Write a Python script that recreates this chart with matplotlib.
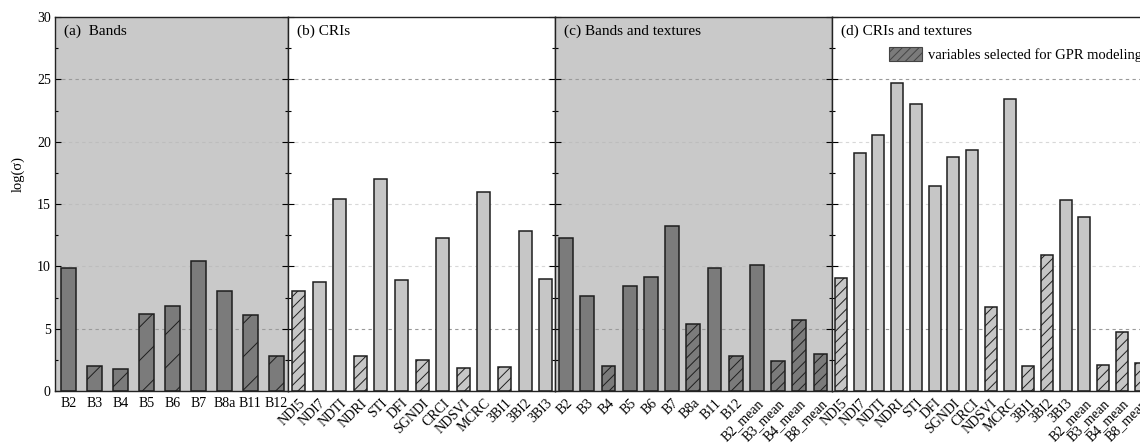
import matplotlib
matplotlib.use('Agg')
import matplotlib.pyplot as plt
from matplotlib.patches import Patch
from matplotlib.ticker import MultipleLocator

plt.rcParams['font.family'] = ['Liberation Serif', 'DejaVu Serif']
plt.rcParams['hatch.linewidth'] = 0.7

# (a) Bands
bands = ['B2', 'B3', 'B4', 'B5', 'B6', 'B7', 'B8a', 'B11', 'B12']
bands_val = [9.9, 1.98, 1.74, 6.15, 6.79, 10.45, 8.05, 6.07, 2.78]
bands_sel = [0, 1, 1, 1, 1, 0, 0, 1, 1]

# (b) CRIs
cris = ['NDI5', 'NDI7', 'NDTI', 'NDRI', 'STI', 'DFI', 'SGNDI', 'CRCI',
        'NDSVI', 'MCRC', '3BI1', '3BI2', '3BI3']
cris_val = [8.0, 8.74, 15.43, 2.78, 17.03, 8.88, 2.51, 12.27,
            1.87, 15.96, 1.95, 12.83, 9.01]
cris_sel = [1, 0, 0, 1, 0, 0, 1, 0, 1, 0, 1, 0, 0]

# (c) Bands and textures
bt = ['B2', 'B3', 'B4', 'B5', 'B6', 'B7', 'B8a', 'B11', 'B12',
      'B2_mean', 'B3_mean', 'B4_mean', 'B8_mean']
bt_val = [12.27, 7.65, 2.03, 8.40, 9.12, 13.24, 5.40, 9.89, 2.83,
          10.08, 2.38, 5.67, 2.94]
bt_sel = [0, 0, 1, 0, 0, 0, 1, 0, 1, 0, 1, 1, 1]

# (d) CRIs and textures
ct = ['NDI5', 'NDI7', 'NDTI', 'NDRI', 'STI', 'DFI', 'SGNDI', 'CRCI',
      'NDSVI', 'MCRC', '3BI1', '3BI2', '3BI3',
      'B2_mean', 'B3_mean', 'B4_mean', 'B8_mean']
ct_val = [9.06, 19.06, 20.56, 24.71, 23.0, 16.47, 18.74, 19.36,
          6.74, 23.42, 1.98, 10.88, 15.35, 13.96, 2.11, 4.71, 2.25]
ct_sel = [1, 0, 0, 0, 0, 0, 0, 0, 1, 0, 1, 1, 0, 0, 1, 1, 1]

W, H = 1140, 445
fig = plt.figure(figsize=(W / 100, H / 100), dpi=100)

dark = '#7b7b7b'
light = '#c6c6c6'
panel_bg = '#c9c9c9'

# panel: (names, values, selected, title, x0 px, x1 px, xlim, bg, bar colour, hatch, width, rotate)
panels = [
    (bands, bands_val, bands_sel, '(a)  Bands', 55, 288, (-0.54, 8.46), panel_bg, dark, '/', 0.58, False),
    (cris, cris_val, cris_sel, '(b) CRIs', 288, 555, (-0.51, 12.45), 'white', light, '///', 0.63, True),
    (bt, bt_val, bt_sel, '(c) Bands and textures', 555, 832, (-0.52, 12.54), panel_bg, dark, '///', 0.65, True),
    (ct, ct_val, ct_sel, '(d) CRIs and textures', 832, 1150, (-0.48, 16.5), 'white', light, '///', 0.64, True),
]

y_top, y_bot = 17, 391
axes = []
for i, (names, vals, sel, title, x0, x1, xl, bg, col, hatch, bw, rot) in enumerate(panels):
    ax = fig.add_axes([x0 / W, (H - y_bot) / H, (x1 - x0) / W, (y_bot - y_top) / H])
    ax.set_facecolor(bg)
    xs = list(range(len(names)))
    for x, v, s in zip(xs, vals, sel):
        ax.bar(x, v, width=bw, color=col, edgecolor='#1e1e1e', linewidth=1.1,
               hatch=hatch if s else None, zorder=2)
    ax.set_xlim(*xl)
    ax.set_ylim(0, 30)
    ax.yaxis.set_major_locator(MultipleLocator(5))
    ax.yaxis.set_minor_locator(MultipleLocator(2.5))
    for g in [10, 15, 20]:
        ax.axhline(g, color='#d8d8d8' if bg == 'white' else '#bdbdbd', ls=(0, (3, 3)), lw=0.8, zorder=1)
    for g in [5, 25]:
        ax.axhline(g, color='#9a9a9a', ls=(0, (3, 3)), lw=0.8, zorder=1)
    ax.set_xticks(xs)
    if rot:
        ax.set_xticklabels(names, rotation=45, ha='right', va='top', rotation_mode='anchor', fontsize=10)
    else:
        ax.set_xticklabels(names, fontsize=10)
    ax.tick_params(axis='x', direction='in', length=4, width=0.8, pad=4)
    ax.tick_params(axis='y', which='both', direction='in', left=True, right=True, width=0.8)
    ax.tick_params(axis='y', which='major', length=4)
    ax.tick_params(axis='y', which='minor', length=2)
    if i == 0:
        ax.tick_params(axis='y', labelsize=10, pad=3)
        ax.set_ylabel('log(σ)', fontsize=10.5)
        ax.yaxis.set_label_coords(-0.13, 0.58)
    else:
        ax.tick_params(axis='y', labelleft=False)
    for sp in ax.spines.values():
        sp.set_linewidth(1.0)
        sp.set_color('#222222')
    ax.text(9 / (x1 - x0), 0.962, title, transform=ax.transAxes, fontsize=11, va='center', ha='left')
    axes.append(ax)

leg_patch = Patch(facecolor=dark, edgecolor='#444444', hatch='////', linewidth=0.8)
axes[3].legend([leg_patch], ['variables selected for GPR modeling'], loc='upper left',
               bbox_to_anchor=(0.16, 0.935), frameon=False, fontsize=10.5,
               handlelength=2.3, handleheight=1.1, handletextpad=0.4, borderaxespad=0)

fig.savefig('out.png', dpi=100)
